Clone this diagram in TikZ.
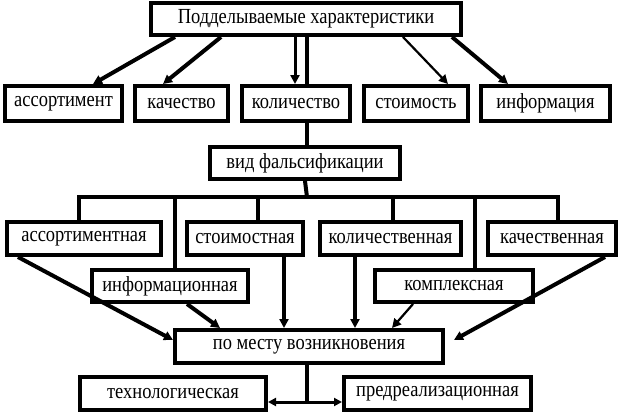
\documentclass[tikz,border=0pt]{standalone}
\usepackage{fontspec}
\setmainfont{Liberation Serif}[FakeStretch=0.86]
\usetikzlibrary{arrows.meta,calc}
\tikzset{
  box/.style={draw=black, line width=4pt, fill=white, inner sep=0pt,
    minimum height=33pt, font=\fontsize{21.5}{24}\selectfont, anchor=center},
  conn/.style={draw=black, line width=4pt},
  thinconn/.style={draw=black, line width=2.2pt},
  midconn/.style={draw=black, line width=3pt},
  arr/.style={-{Triangle[length=9pt,width=9pt]}},
  darr/.style={{Triangle[length=8pt,width=8pt]}-{Triangle[length=8pt,width=8pt]}}
}
\begin{document}
\begin{tikzpicture}[x=1pt,y=-1pt]
\useasboundingbox[fill=white] (0,0) rectangle (621,415);
% connectors drawn first where boxes cover them
\coordinate (topc) at (307,37);
\coordinate (bar) at (307,197);
% level 1
\node[box, minimum width=310pt, minimum height=32pt] (top) at (306,19) {Подделываемые характеристики};
\node[box, minimum width=190pt, minimum height=32pt] (vid) at (305,163) {вид фальсификации};
\draw[conn] ([xshift=1pt]top.south) -- ([xshift=2pt]vid.north);
% level 2
\node[box, minimum width=117pt, minimum height=35pt] (assort) at (63.5,103.5) {ассортимент};
\node[box, minimum width=93pt, minimum height=35pt] (kach) at (181.5,103.5) {качество};
\node[box, minimum width=108pt, minimum height=35pt] (kol) at (296,103.5) {количество};
\node[box, minimum width=104pt, minimum height=35pt] (stoim) at (416,103.5) {стоимость};
\node[box, minimum width=129pt, minimum height=35pt] (inform) at (545.5,103.5) {информация};
\draw[conn, arr] ([xshift=-131pt]top.south) -- ([xshift=29.5pt]assort.north);
\draw[conn, arr] ([xshift=-85pt]top.south) -- ([xshift=-18.5pt]kach.north);
\draw[midconn, arr] ([xshift=-11pt]top.south) -- ([xshift=-1pt]kol.north);
\draw[thinconn, arr] ([xshift=97pt]top.south) -- ([xshift=32pt]stoim.north);
\draw[conn, arr] ([xshift=146pt]top.south) -- ([xshift=-37.5pt]inform.north);
% level 3
\node[box, minimum width=154pt] (assortv) at (84,238.5) {ассортиментная};
\node[box, minimum width=116pt] (stoimv) at (245,238.5) {стоимостная};
\node[box, minimum width=141pt] (kolv) at (390.5,238.5) {количественная};
\node[box, minimum width=128pt] (kachv) at (552,238.5) {качественная};
\node[box, minimum width=156pt, minimum height=32pt] (infv) at (170,286) {информационная};
\node[box, minimum width=158pt, minimum height=32pt] (kompl) at (454,286) {комплексная};
\draw[conn] (vid.south) -- (bar);
\draw[conn] ([xshift=-5pt]assortv.north) -- ([xshift=-5pt]assortv.north |- bar)
  -- ([xshift=6pt]kachv.north |- bar) -- ([xshift=6pt]kachv.north);
\draw[conn] ([xshift=5pt]infv.north |- bar) -- ([xshift=5pt]infv.north);
\draw[conn] ([xshift=13pt]stoimv.north |- bar) -- ([xshift=13pt]stoimv.north);
\draw[conn] ([xshift=2.5pt]kolv.north |- bar) -- ([xshift=2.5pt]kolv.north);
\draw[conn] ([xshift=21pt]kompl.north |- bar) -- ([xshift=21pt]kompl.north);
% level 4
\node[box, minimum width=268pt] (mesto) at (309,346.5) {по месту возникновения};
\draw[conn, arr] ([xshift=39pt]stoimv.south) -- ([xshift=39pt]stoimv.south |- mesto.north);
\draw[conn, arr] ([xshift=-35.5pt]kolv.south) -- ([xshift=-35.5pt]kolv.south |- mesto.north);
\draw[conn, arr] ([xshift=-66pt]assortv.south) -- ([yshift=6.5pt]mesto.west);
\draw[conn, arr] ([xshift=17pt]infv.south) -- ([xshift=-89pt]mesto.north);
\draw[thinconn, arr] ([xshift=-41pt]kompl.south) -- ([xshift=83pt]mesto.north);
\draw[conn, arr] ([xshift=53pt]kachv.south) -- ([xshift=9pt,yshift=6.5pt]mesto.east);
% bottom
\node[box, minimum width=186pt] (tech) at (173,393.5) {технологическая};
\node[box, minimum width=187pt] (pred) at (437.5,393.5) {предреализационная};
\coordinate (split) at (307,402);
\draw[conn] ([xshift=-2pt]mesto.south) -- (split);
\draw[midconn, darr] (tech.east |- split) -- (pred.west |- split);
\end{tikzpicture}
\end{document}
